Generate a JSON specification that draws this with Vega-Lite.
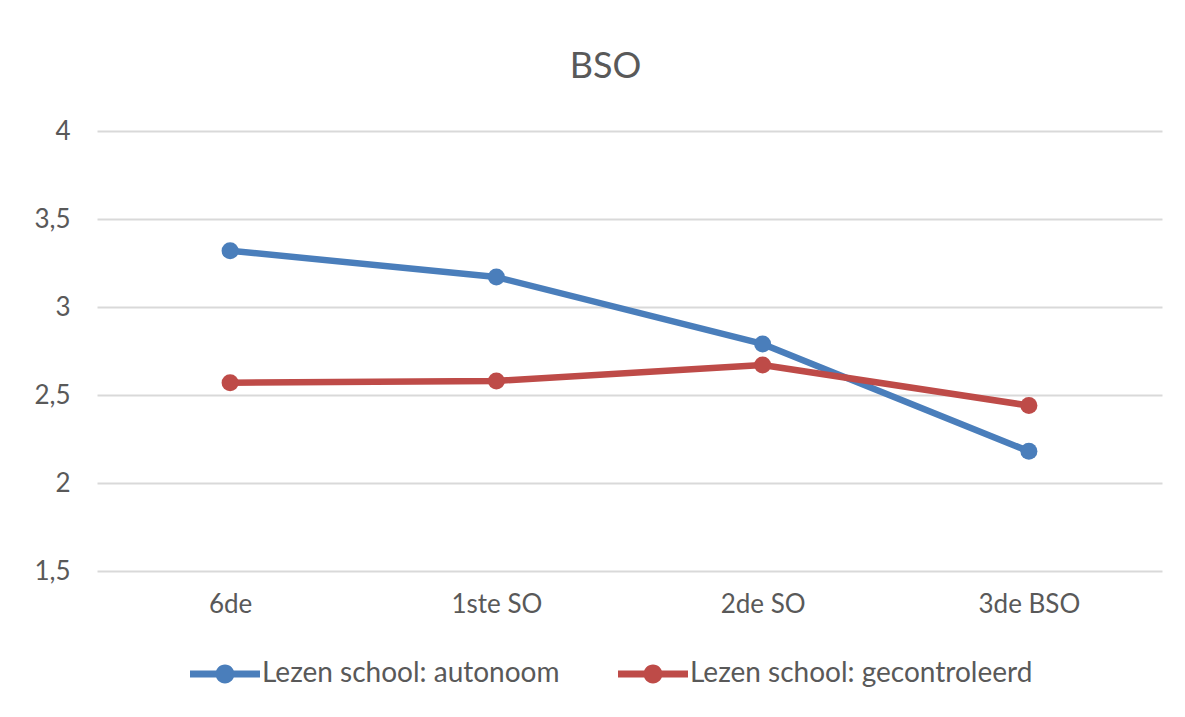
{
  "$schema": "https://vega.github.io/schema/vega-lite/v6.json",
  "width": 1065,
  "height": 440,
  "autosize": {"type": "none"},
  "padding": {"left": 97, "top": 131, "right": 23, "bottom": 146},
  "background": "white",
  "title": {
    "text": "BSO",
    "font": "Lato",
    "fontSize": 36,
    "fontWeight": "normal",
    "color": "#595959",
    "anchor": "middle",
    "frame": "group",
    "dx": -24,
    "offset": 32
  },
  "config": {
    "view": {"stroke": null},
    "font": "Lato"
  },
  "data": {
    "values": [
      {"klas": "6de", "reeks": "Lezen school: autonoom", "waarde": 3.32},
      {"klas": "1ste SO", "reeks": "Lezen school: autonoom", "waarde": 3.17},
      {"klas": "2de SO", "reeks": "Lezen school: autonoom", "waarde": 2.79},
      {"klas": "3de BSO", "reeks": "Lezen school: autonoom", "waarde": 2.18},
      {"klas": "6de", "reeks": "Lezen school: gecontroleerd", "waarde": 2.57},
      {"klas": "1ste SO", "reeks": "Lezen school: gecontroleerd", "waarde": 2.58},
      {"klas": "2de SO", "reeks": "Lezen school: gecontroleerd", "waarde": 2.67},
      {"klas": "3de BSO", "reeks": "Lezen school: gecontroleerd", "waarde": 2.44}
    ]
  },
  "encoding": {
    "x": {
      "field": "klas",
      "type": "ordinal",
      "sort": ["6de", "1ste SO", "2de SO", "3de BSO"],
      "scale": {"type": "point", "padding": 0.5},
      "axis": {
        "title": null,
        "domain": false,
        "ticks": false,
        "grid": false,
        "labelAngle": 0,
        "labelFont": "Lato",
        "labelFontSize": 26,
        "labelColor": "#595959",
        "labelPadding": 20
      }
    },
    "y": {
      "field": "waarde",
      "type": "quantitative",
      "scale": {"domain": [1.5, 4], "nice": false, "zero": false},
      "axis": {
        "title": null,
        "domain": false,
        "ticks": false,
        "values": [1.5, 2, 2.5, 3, 3.5, 4],
        "labelExpr": "replace(format(datum.value, '.1~f'), '.', ',')",
        "gridColor": "#d9d9d9",
        "gridWidth": 2,
        "labelFont": "Lato",
        "labelFontSize": 26,
        "labelColor": "#595959",
        "labelPadding": 27
      }
    },
    "color": {
      "field": "reeks",
      "type": "nominal",
      "scale": {
        "domain": ["Lezen school: autonoom", "Lezen school: gecontroleerd"],
        "range": ["#4a7ebb", "#be4b48"]
      },
      "legend": {
        "title": null,
        "orient": "none",
        "direction": "horizontal",
        "legendX": 93,
        "legendY": 508,
        "padding": 0,
        "symbolType": "M-1,-0.1H1V0.1H-1Z M-0.27,0A0.27,0.27 0 1,1 0.27,0A0.27,0.27 0 1,1 -0.27,0Z",
        "symbolSize": 4900,
        "symbolStrokeWidth": 0,
        "symbolOpacity": 1,
        "labelFont": "Lato",
        "labelFontSize": 28,
        "labelColor": "#595959",
        "labelOffset": 2,
        "labelLimit": 600,
        "columnPadding": 58,
        "encode": {
          "symbols": {
            "update": {
              "fill": {"scale": "color", "field": "value"},
              "fillOpacity": {"value": 1},
              "strokeWidth": {"value": 0}
            }
          }
        }
      }
    }
  },
  "layer": [
    {
      "mark": {"type": "line", "strokeWidth": 6.5, "strokeCap": "round", "strokeJoin": "round"}
    },
    {
      "mark": {"type": "point", "filled": true, "shape": "circle", "size": 290, "opacity": 1}
    }
  ]
}
